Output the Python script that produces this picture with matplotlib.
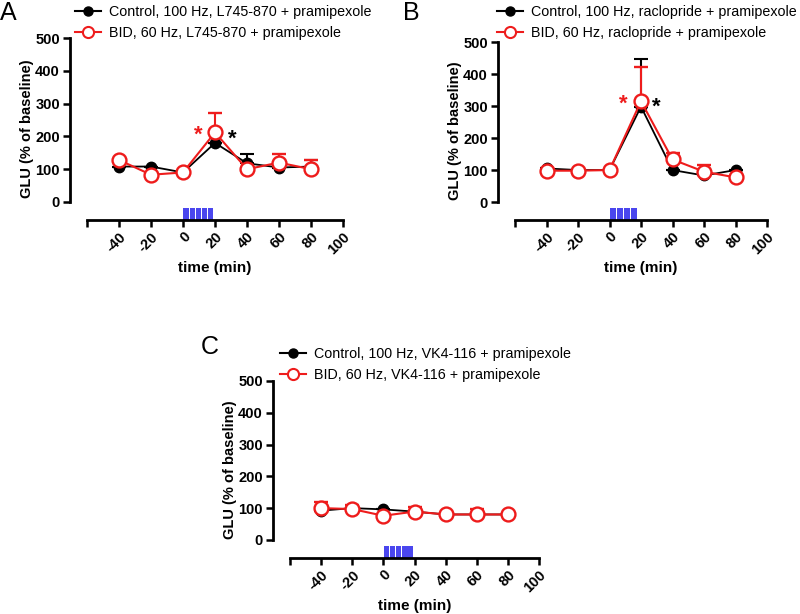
import matplotlib
matplotlib.use('Agg')
import matplotlib.pyplot as plt
from matplotlib.lines import Line2D
import numpy as np

plt.rcParams['font.family'] = ['Liberation Sans', 'DejaVu Sans']

t = [-40, -20, 0, 20, 40, 60, 80]

# panel A: L745-870 + pramipexole
a_ctl = [108, 108, 90, 180, 118, 105, 108]
a_ctl_err = [0, 0, 0, 0, 29, 0, 19]
a_bid = [128, 83, 90, 212, 100, 120, 100]
a_bid_err = [0, 0, 0, 59, 0, 26, 27]

# panel B: raclopride + pramipexole
b_ctl = [105, 100, 100, 298, 100, 83, 100]
b_ctl_err = [0, 0, 0, 149, 0, 0, 0]
b_bid = [98, 98, 100, 315, 133, 95, 77]
b_bid_err = [0, 0, 0, 106, 21, 22, 0]

# panel C: VK4-116 + pramipexole
c_ctl = [92, 100, 96, 89, 80, 80, 80]
c_ctl_err = [0, 0, 0, 0, 0, 0, 0]
c_bid = [100, 97, 76, 89, 80, 80, 80]
c_bid_err = [18, 14, 0, 14, 0, 16, 0]

ticks_x = [-60, -40, -20, 0, 20, 40, 60, 80, 100]
ticklabels_x = ['', '-40', '-20', '0', '20', '40', '60', '80', '100']

# stimulation trains (start, width in min)
stim_a = [(0.3, 3.3), (4.1, 3.3), (7.9, 3.3), (11.7, 3.3), (15.5, 3.3)]
stim_b = [(0.5, 3.9), (4.9, 3.9), (9.3, 3.9), (13.7, 3.9)]
stim_c = stim_a

RED = '#ee1c1c'
W, H = 800, 614
fig = plt.figure(figsize=(8, 6.14), dpi=100)


def panel(box, ymin, drug, ctl, ctl_err, bid, bid_err, stim, stars, letter, letter_xy, leg_xy):
    l, r, top, bot = box
    ax = fig.add_axes([l / W, 1 - bot / H, (r - l) / W, (bot - top) / H])
    ax.set_xlim(-60, 100)
    ax.set_ylim(ymin, 500)
    for s in ['top', 'right']:
        ax.spines[s].set_visible(False)
    ax.spines['left'].set_position(('outward', 12.5))
    ax.spines['left'].set_bounds(0, 500)
    ax.spines['bottom'].set_bounds(-60, 100)
    for s in ['left', 'bottom']:
        ax.spines[s].set_linewidth(2)
    ax.set_yticks([0, 100, 200, 300, 400, 500])
    ax.set_xticks(ticks_x)
    ax.set_xticklabels(ticklabels_x, rotation=45, ha='right', va='top',
                       rotation_mode='anchor', fontweight='bold', fontsize=10.5)
    for lab in ax.get_yticklabels():
        lab.set_fontweight('bold')
        lab.set_fontsize(10.5)
    ax.tick_params(width=1.8, length=5, pad=2)
    ax.set_ylabel('GLU (% of baseline)', fontweight='bold', fontsize=10.5, labelpad=1)
    ax.set_xlabel('time (min)', fontweight='bold', fontsize=11, labelpad=3)

    for x0, w in stim:
        ax.bar(x0, -18 - ymin, bottom=ymin, width=w, align='edge', color='#4a46ee',
               edgecolor='none')

    z = np.zeros(len(t))
    ax.errorbar(t, ctl, yerr=[z, ctl_err], color='black', lw=1.3, capsize=5,
                capthick=1.5, elinewidth=1.5, marker='o', ms=7.5, mfc='black',
                mec='black', zorder=3)
    ax.errorbar(t, bid, yerr=[z, bid_err], color=RED, lw=1.5, capsize=5,
                capthick=1.5, elinewidth=1.5, marker='o', ms=10, mfc='white',
                mec=RED, mew=1.7, zorder=4)
    for sx, sy, col in stars:
        ax.text(sx, sy, '*', color=col, fontsize=16, fontweight='bold',
                ha='center', va='center')

    handles = [Line2D([], [], color='black', lw=1.5, marker='o', ms=6.5),
               Line2D([], [], color=RED, lw=1.5, marker='o', ms=8, mfc='white', mew=1.5)]
    labels = ['Control, 100 Hz, %s + pramipexole' % drug,
              'BID, 60 Hz, %s + pramipexole' % drug]
    ax.legend(handles, labels, loc='upper left', bbox_to_anchor=(leg_xy[0] / W, 1 - leg_xy[1] / H),
              bbox_transform=fig.transFigure, frameon=False, fontsize=10.3,
              handlelength=1.8, handletextpad=0.6, borderpad=0, borderaxespad=0,
              labelspacing=0.5)
    fig.text(letter_xy[0] / W, 1 - letter_xy[1] / H, letter, fontsize=18,
             ha='left', va='top')


panel((87, 343, 38, 220), -55, 'L745-870', a_ctl, a_ctl_err, a_bid, a_bid_err, stim_a,
      [(9.5, 205, RED), (30.5, 190, 'black')], 'A', (0, 1), (75, 5))
panel((515, 767, 42, 220), -56, 'raclopride', b_ctl, b_ctl_err, b_bid, b_bid_err, stim_b,
      [(8.6, 305, RED), (30, 295, 'black')], 'B', (403, 1), (497, 5))
panel((290, 539, 381, 558), -57, 'VK4-116', c_ctl, c_ctl_err, c_bid, c_bid_err, stim_c,
      [], 'C', (201, 335), (280, 347))

fig.savefig('out.png', dpi=100)
